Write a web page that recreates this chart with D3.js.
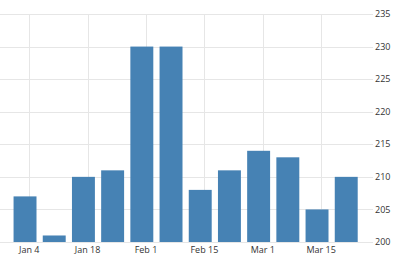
<!DOCTYPE html>
<html>
<head>
<meta charset="utf-8">
<script src="https://cdn.jsdelivr.net/npm/d3@7"></script>
<style>
  body { margin: 0; background: #fff; }
  svg { display: block; font-family: "Open Sans", "DejaVu Sans", sans-serif; }
</style>
</head>
<body>
<svg id="chart"></svg>
<script>
// weekly data (week ending Saturday)
var weekDates = ["2015-01-03", "2015-01-10", "2015-01-17", "2015-01-24", "2015-01-31", "2015-02-07",
                 "2015-02-14", "2015-02-21", "2015-02-28", "2015-03-07", "2015-03-14", "2015-03-21"];
var values = [207, 201, 210, 211, 230, 230, 208, 211, 214, 213, 205, 210];
var xTickDates = ["2015-01-04", "2015-01-18", "2015-02-01", "2015-02-15", "2015-03-01", "2015-03-15"];
var yTicks = [200, 205, 210, 215, 220, 225, 230, 235];

var width = 393, height = 267;
var plotLeft = 0, plotRight = 373, plotTop = 14, plotBottom = 242;

var parse = d3.timeParse("%Y-%m-%d");
var dates = weekDates.map(parse);
var ticks = xTickDates.map(parse);

var svg = d3.select("#chart").attr("width", width).attr("height", height);

var x = d3.scaleTime()
    .domain([new Date(2014, 11, 28), new Date(2015, 2, 27, 10)])
    .range([plotLeft, plotRight]);
var y = d3.scaleLinear().domain([200, 235]).range([plotBottom, plotTop]);

var dayPx = x(new Date(2015, 0, 2)) - x(new Date(2015, 0, 1));
var barWidth = dayPx * 5.5;

// horizontal grid
svg.append("g").selectAll("line")
    .data(yTicks)
    .enter().append("line")
    .attr("x1", plotLeft).attr("x2", plotRight)
    .attr("y1", function(d) { return Math.round(y(d)) + 0.5; })
    .attr("y2", function(d) { return Math.round(y(d)) + 0.5; })
    .attr("stroke", "#e6e6e6");

// vertical grid
svg.append("g").selectAll("line")
    .data(ticks)
    .enter().append("line")
    .attr("x1", function(d) { return Math.round(x(d)) + 0.5; })
    .attr("x2", function(d) { return Math.round(x(d)) + 0.5; })
    .attr("y1", plotTop).attr("y2", plotBottom)
    .attr("stroke", "#e6e6e6");

// bars
svg.append("g").selectAll("rect")
    .data(values)
    .enter().append("rect")
    .attr("x", function(d, i) { return x(dates[i]) - barWidth / 2; })
    .attr("y", function(d) { return y(d); })
    .attr("width", barWidth)
    .attr("height", function(d) { return y(200) - y(d); })
    .attr("fill", "#4682b4");

// y labels on the right
svg.append("g").selectAll("text")
    .data(yTicks)
    .enter().append("text")
    .attr("x", 375)
    .attr("y", function(d) { return y(d); })
    .attr("dy", "0.35em")
    .attr("font-size", 9)
    .attr("fill", "#333")
    .text(function(d) { return d; });

// x labels
var fmt = d3.timeFormat("%b %-d");
svg.append("g").selectAll("text")
    .data(ticks)
    .enter().append("text")
    .attr("x", function(d) { return x(d); })
    .attr("y", 253)
    .attr("text-anchor", "middle")
    .attr("font-size", 9)
    .attr("fill", "#333")
    .text(function(d) { return fmt(d); });
</script>
</body>
</html>
